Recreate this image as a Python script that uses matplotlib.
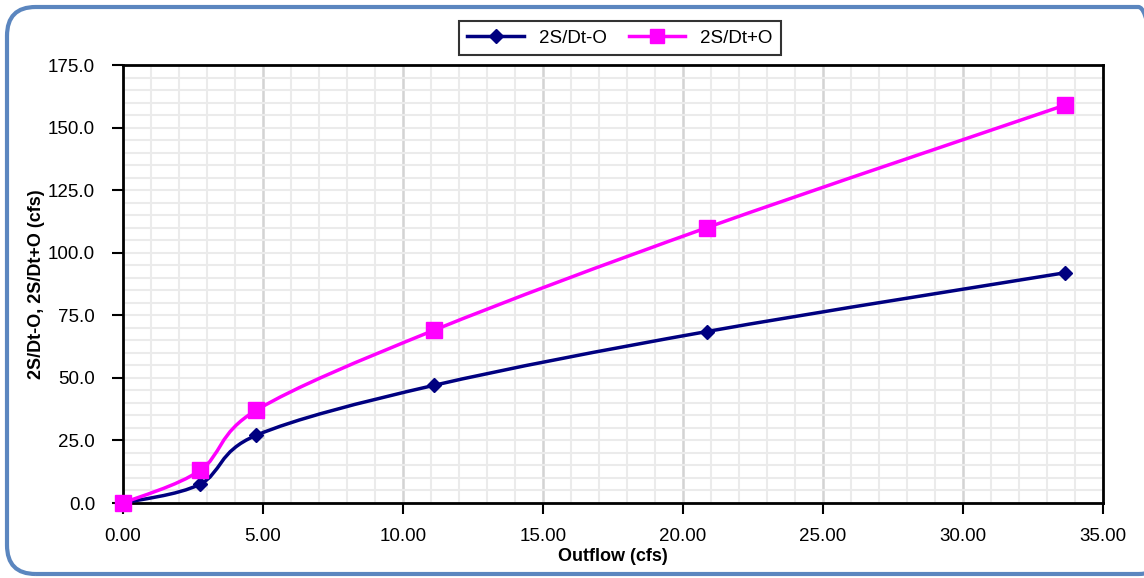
import numpy as np
import matplotlib.pyplot as plt
from matplotlib.path import Path
from matplotlib.patches import PathPatch, FancyBboxPatch
from matplotlib.lines import Line2D

plt.rcParams['font.family'] = ['Liberation Sans', 'DejaVu Sans']

# data
outflow = [0.0, 2.75, 4.75, 11.1, 20.85, 33.65]
minus_o = [0.0, 7.5, 27.0, 47.0, 68.5, 92.0]
plus_o = [0.0, 13.0, 37.0, 69.0, 110.0, 159.0]
series_names = ['2S/Dt-O', '2S/Dt+O']
xticks = [0, 5, 10, 15, 20, 25, 30, 35]
yticks = [0, 25, 50, 75, 100, 125, 150, 175]

blue = '#000080'
pink = '#ff00ff'


def smooth_path(xs, ys):
    # Excel-style smoothed line: cubic bezier through the points
    p = np.column_stack([xs, ys])
    n = len(p)
    verts = [p[0]]
    codes = [Path.MOVETO]
    for i in range(n - 1):
        p0 = p[i - 1] if i > 0 else p[i]
        p3 = p[i + 2] if i + 2 < n else p[i + 1]
        c1 = p[i] + (p[i + 1] - p0) / 6
        c2 = p[i + 1] - (p3 - p[i]) / 6
        verts += [c1, c2, p[i + 1]]
        codes += [Path.CURVE4] * 3
    return Path(verts, codes)


fig = plt.figure(figsize=(11.44, 5.78), dpi=100)

# rounded outer frame (right edge runs off the picture)
frame = FancyBboxPatch((7 / 1144, 4 / 578), 1160 / 1144, 567 / 578,
                       boxstyle='round,pad=0,rounding_size=0.025',
                       transform=fig.transFigure, fill=False,
                       edgecolor='#5b86bf', linewidth=3, clip_on=False,
                       mutation_aspect=2.0)
fig.patches.append(frame)

ax = fig.add_axes([123 / 1144, 1 - 503 / 578, 980 / 1144, 438 / 578])

ax.set_xlim(0, 35)
ax.set_ylim(0, 175)
ax.set_xticks(xticks)
ax.set_xticklabels(['%.2f' % v for v in xticks])
ax.set_yticks(yticks)
ax.set_yticklabels(['%.1f' % v for v in yticks])
ax.set_xticks(np.arange(0, 36, 1), minor=True)
ax.set_yticks(np.arange(0, 176, 5), minor=True)

ax.grid(which='minor', color='#ebebeb', linewidth=1.5)
ax.grid(which='major', axis='y', color='#ebebeb', linewidth=1.5)
ax.grid(which='major', axis='x', color='#d3d3d3', linewidth=1.8)
ax.set_axisbelow(True)

ax.tick_params(which='minor', length=0)
ax.tick_params(which='major', direction='out', length=8, width=1.5,
               labelsize=13.5, pad=10)
ax.tick_params(axis='y', pad=12)
for s in ax.spines.values():
    s.set_linewidth(2)
    s.set_color('black')

ax.add_patch(PathPatch(smooth_path(outflow, minus_o), fill=False,
                       edgecolor=blue, linewidth=2.5, zorder=3))
ax.add_patch(PathPatch(smooth_path(outflow, plus_o), fill=False,
                       edgecolor=pink, linewidth=2.5, zorder=3))
ax.plot(outflow, minus_o, linestyle='none', marker='D', markersize=7,
        color=blue, zorder=4, clip_on=False)
ax.plot(outflow, plus_o, linestyle='none', marker='s', markersize=11,
        color=pink, zorder=4, clip_on=False)

ax.set_xlabel('Outflow (cfs)', fontsize=13, fontweight='bold', labelpad=2)
ax.set_ylabel('2S/Dt-O, 2S/Dt+O (cfs)', fontsize=13, fontweight='bold',
              labelpad=2)

handles = [Line2D([], [], color=blue, linewidth=2.5, marker='D', markersize=7),
           Line2D([], [], color=pink, linewidth=2.5, marker='s', markersize=10)]
leg = fig.legend(handles, series_names, loc='center',
                 bbox_to_anchor=(620 / 1144, 1 - 38 / 578), ncol=2,
                 fontsize=13.5, frameon=True, fancybox=False, edgecolor='black',
                 handlelength=3.0, columnspacing=1.2, borderpad=0.45)
leg.get_frame().set_linewidth(1.5)

plt.savefig('out.png', dpi=100)
plt.close(fig)
